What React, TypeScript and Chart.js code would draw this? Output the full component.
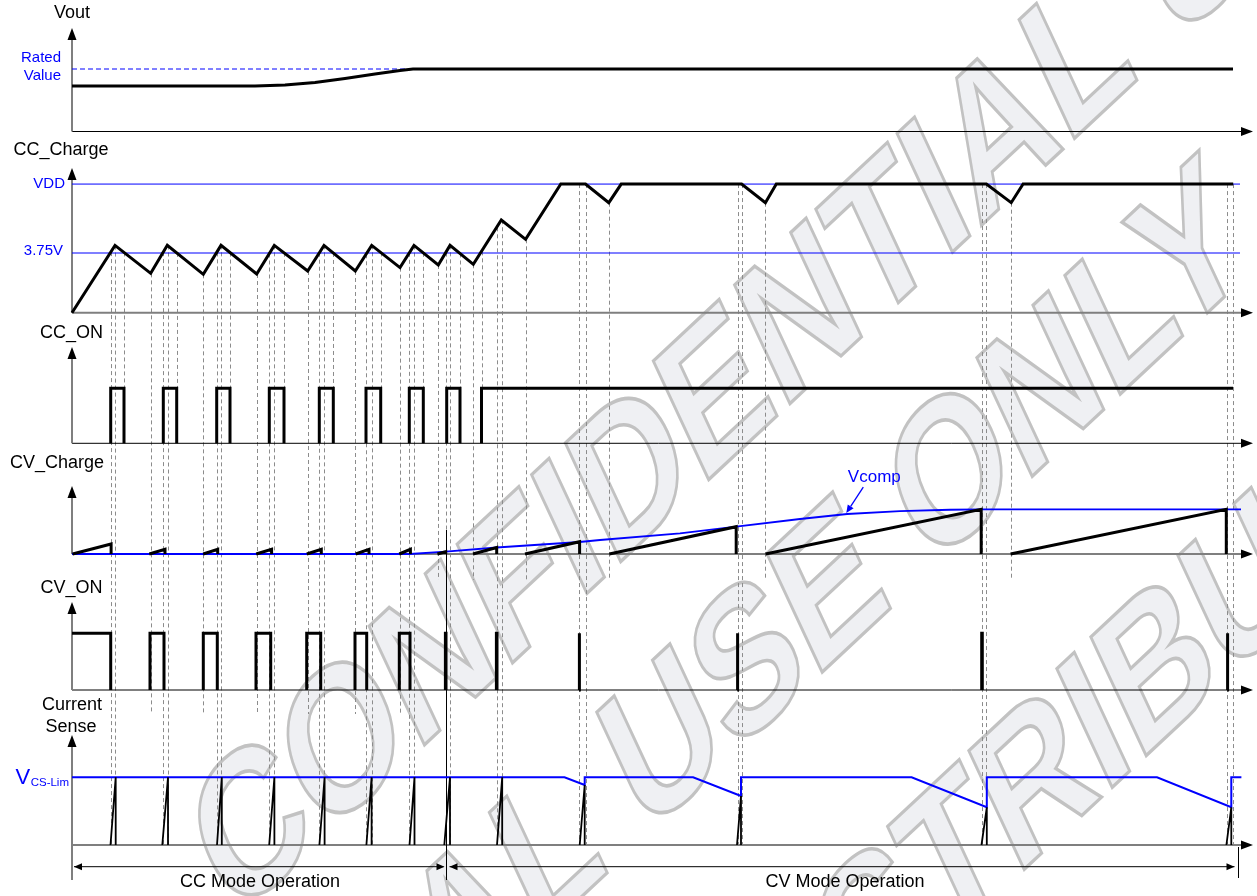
import React, { useEffect, useRef } from 'react';
import { Chart, registerables } from 'chart.js';

Chart.register(...registerables);

// ====================== DATA (time in arbitrary units, 0 = origin) ======================
const T_END = 1161;
const REF_LINE_END = 1168;

// Vout (1 = rated value)
const voutTime = [0, 183, 213, 243, 273, 303, 328, 341, 1161];
const voutLevel = [0.728, 0.728, 0.744, 0.784, 0.848, 0.92, 0.976, 1, 1];
const RATED_VALUE = 1;
const ratedLineEnd = 341;

// CC_Charge (V)
const VDD = 8.08;
const CC_REF = 3.75;
const ccChargeTime = [0, 43, 78.7, 95.3, 131.3, 149, 184.7, 202.3, 235.7, 252, 283.3, 299.7, 328, 342, 366.3, 378, 401.3, 429.3, 453.6, 488.8, 513.5, 536.8, 549.2, 669.6, 693.4, 704.3, 914.4, 939.2, 951.1, 1161.2];
const ccChargeVolt = [0, 4.23, 2.47, 4.23, 2.41, 4.23, 2.43, 4.23, 2.62, 4.23, 2.62, 4.23, 2.83, 4.23, 3.0, 4.23, 3.04, 5.82, 4.61, 8.08, 8.08, 6.91, 8.08, 8.08, 6.91, 8.08, 8.08, 6.91, 8.08, 8.08];

// CC_ON (logic)
const ccOnRise = [38.7, 91.3, 144.7, 197.3, 247.3, 294, 337.3, 374.7];
const ccOnFall = [52, 104.7, 158, 212, 261.3, 308.7, 351.3, 388];
const ccOnFinalRise = 409.5;

// CV_Charge ramps (1 = final Vcomp level)
const cvRampStart = [0.6, 77.3, 131.2, 184.2, 234.8, 283.7, 327.3, 365.4, 401, 453, 537.3, 693.5, 938.6];
const cvRampEnd = [39.1, 93, 145.7, 199.6, 249.3, 297, 338.4, 373.7, 424.7, 507.6, 664.2, 909.2, 1154.3];
const cvRampPeak = [0.224, 0.105, 0.105, 0.105, 0.105, 0.105, 0.105, 0.05, 0.145, 0.275, 0.611, 1, 1];

// Vcomp
const vcompTime = [0, 338, 373.7, 424.7, 507.6, 528, 608, 664.2, 728, 775.2, 828, 878, 909.2, 1169];
const vcompLevel = [0, 0, 0.051, 0.145, 0.268, 0.313, 0.463, 0.611, 0.783, 0.895, 0.957, 0.99, 1, 1];

// CV_ON (logic)
const cvOnInitialEnd = 38.7;
const cvOnStart = [78, 131.3, 184, 234.7, 283, 327.3, 373.4, 424.4, 507, 665.2, 909.7, 1155.2];
const cvOnEnd = [92, 145.3, 198.7, 248.7, 294.7, 338, 374, 425, 507.6, 665.8, 910.3, 1155.8];

// Current Sense (1 = V_CS-Lim)
const csLimTime = [0, 492.5, 512.7, 512.7, 621.1, 669, 669, 839.6, 914.8, 914.8, 1085, 1159.3, 1159.3, 1169.4];
const csLimLevel = [1, 1, 0.886, 1, 1, 0.724, 1, 1, 0.557, 1, 1, 0.557, 1, 1];
const csSpikeStart = [38.5, 90.3, 145, 197.2, 247.4, 294.4, 337.5, 372.3, 425, 507.7, 665, 909.5, 1154.4];
const csSpikePeakTime = [43.7, 96, 149.8, 202.4, 252.6, 299.6, 342.5, 378, 430.2, 512.7, 669, 914.8, 1159.3];
const csSpikePeak = [1, 1, 1, 1, 1, 1, 1, 1, 1, 0.886, 0.724, 0.557, 0.557];

// Event markers (dashed guides)
const markToCS = [38.7, 43.3, 91.3, 95.5, 144.7, 149, 197.3, 202.3, 247.3, 252, 294, 299.7, 337.3, 342.3, 373.7, 378, 424.7, 429.5, 507.3, 513.5, 665.5, 669.6, 910, 914.4, 1155.3, 1161.2];
const markToCCOn = [52, 104.7, 158, 212, 261.3, 308.7, 351.3, 388, 409.5];
const markTroughCC = [78.7, 131.3, 184.7, 235.7, 283.3, 328];
const markTroughCV = [366.3, 401.3, 453.6, 536.8, 693.4, 939.2];
const modeBoundary = 373.7;

// ====================== LAYOUT / STYLE ======================
const W = 1257;
const H = 896;
const X_MIN = -72;
const X_MAX = W - 72;
const FONT = '"Liberation Sans", Arial, Helvetica, sans-serif';
const BLUE = '#0000ff';

type Panel = { id: string; base: number; unit: number; tip: number; baseColor: string; baseWidth: number };
const PANELS: Panel[] = [
  { id: 'yVout', base: 131.5, unit: 62.5, tip: 28, baseColor: '#000000', baseWidth: 1.2 },
  { id: 'yCCc', base: 312.7, unit: 15.92, tip: 168, baseColor: '#7f7f7f', baseWidth: 2 },
  { id: 'yCCon', base: 443.3, unit: 55, tip: 347, baseColor: '#000000', baseWidth: 1 },
  { id: 'yCVc', base: 554, unit: 44.7, tip: 486, baseColor: '#7f7f7f', baseWidth: 2 },
  { id: 'yCVon', base: 690, unit: 56.7, tip: 602, baseColor: '#000000', baseWidth: 1 },
  { id: 'yCS', base: 845, unit: 67.7, tip: 735, baseColor: '#7f7f7f', baseWidth: 2 },
];

const WATERMARK = {
  angleDeg: 33.4,
  yStretch: 1.415,
  size: 146,
  lines: [
    { text: 'CONFIDENTIAL USE ONLY', anchor: 1, x: 340, y: 735 },
    { text: 'CONFIDENTIAL USE ONLY', anchor: 13, x: 660, y: 735 },
    { text: 'NOT FOR DISTRIBUTION', anchor: 11, x: 950, y: 850 },
  ],
};

// ====================== HELPERS ======================
type P = { x: number; y: number | null };
const pts = (ts: number[], vs: number[]): P[] => ts.map((t, i) => ({ x: t, y: vs[i] }));

function interp(ts: number[], vs: number[], t: number) {
  if (t <= ts[0]) return vs[0];
  for (let i = 1; i < ts.length; i++) {
    if (t <= ts[i]) {
      const a = ts[i - 1], b = ts[i];
      if (b === a) return vs[i];
      return vs[i - 1] + ((vs[i] - vs[i - 1]) * (t - a)) / (b - a);
    }
  }
  return vs[vs.length - 1];
}

function buildCcOn(): P[] {
  const d: P[] = [];
  ccOnRise.forEach((r, i) => {
    const f = ccOnFall[i];
    d.push({ x: r, y: 0 }, { x: r, y: 1 }, { x: f, y: 1 }, { x: f, y: 0 }, { x: f, y: null });
  });
  d.push({ x: ccOnFinalRise, y: 0 }, { x: ccOnFinalRise, y: 1 }, { x: T_END, y: 1 });
  return d;
}

function buildCvOn(): P[] {
  const d: P[] = [{ x: 0, y: 1 }, { x: cvOnInitialEnd, y: 1 }, { x: cvOnInitialEnd, y: 0 }, { x: cvOnInitialEnd, y: null }];
  cvOnStart.forEach((s, i) => {
    const e = cvOnEnd[i];
    d.push({ x: s, y: 0 }, { x: s, y: 1 }, { x: e, y: 1 }, { x: e, y: 0 }, { x: e, y: null });
  });
  return d;
}

function buildRamps(): P[] {
  const d: P[] = [];
  cvRampStart.forEach((s, i) => {
    const e = cvRampEnd[i];
    d.push({ x: s, y: 0 }, { x: e, y: cvRampPeak[i] }, { x: e, y: 0 }, { x: e, y: null });
  });
  return d;
}

function buildSpikes(): P[] {
  const d: P[] = [];
  csSpikeStart.forEach((s, i) => {
    const p = csSpikePeakTime[i];
    d.push({ x: s, y: 0 }, { x: p, y: csSpikePeak[i] }, { x: p, y: 0 }, { x: p, y: null });
  });
  return d;
}

function line(ctx: CanvasRenderingContext2D, x1: number, y1: number, x2: number, y2: number) {
  ctx.beginPath();
  ctx.moveTo(x1, y1);
  ctx.lineTo(x2, y2);
  ctx.stroke();
}

function tri(ctx: CanvasRenderingContext2D, x: number, y: number, dir: 'up' | 'right' | 'left', len: number, half: number) {
  ctx.beginPath();
  if (dir === 'up') {
    ctx.moveTo(x, y); ctx.lineTo(x - half, y + len); ctx.lineTo(x + half, y + len);
  } else if (dir === 'right') {
    ctx.moveTo(x, y); ctx.lineTo(x - len, y - half); ctx.lineTo(x - len, y + half);
  } else {
    ctx.moveTo(x, y); ctx.lineTo(x + len, y - half); ctx.lineTo(x + len, y + half);
  }
  ctx.closePath();
  ctx.fill();
}

function txt(ctx: CanvasRenderingContext2D, s: string, x: number, y: number, size = 18, color = '#000', align: CanvasTextAlign = 'center') {
  ctx.font = `${size}px ${FONT}`;
  ctx.fillStyle = color;
  ctx.textAlign = align;
  ctx.textBaseline = 'middle';
  ctx.fillText(s, x, y);
}

function drawWatermark(ctx: CanvasRenderingContext2D) {
  const a = (WATERMARK.angleDeg * Math.PI) / 180;
  ctx.save();
  ctx.font = `bold ${WATERMARK.size}px ${FONT}`;
  ctx.textAlign = 'left';
  ctx.textBaseline = 'alphabetic';
  ctx.lineJoin = 'miter';
  for (const wm of WATERMARK.lines) {
    const pre = ctx.measureText(wm.text.slice(0, wm.anchor)).width;
    const half = ctx.measureText(wm.text[wm.anchor]).width / 2;
    ctx.save();
    ctx.translate(wm.x, wm.y);
    ctx.scale(1, WATERMARK.yStretch);
    ctx.rotate(-a);
    const ox = -(pre + half);
    const oy = (WATERMARK.size * 0.716) / 2;
    ctx.fillStyle = '#eff0f3';
    ctx.fillText(wm.text, ox, oy);
    ctx.lineWidth = 2.6;
    ctx.strokeStyle = '#c2c2c2';
    ctx.strokeText(wm.text, ox, oy);
    ctx.restore();
  }
  ctx.restore();
}

const diagramPlugin = {
  id: 'timingDiagram',
  beforeDraw(chart: any) {
    const ctx: CanvasRenderingContext2D = chart.ctx;
    ctx.save();
    ctx.fillStyle = '#ffffff';
    ctx.fillRect(0, 0, chart.width, chart.height);
    ctx.restore();
    drawWatermark(ctx);
  },
  beforeDatasetsDraw(chart: any) {
    const ctx: CanvasRenderingContext2D = chart.ctx;
    const xs = chart.scales.x;
    const px = (t: number) => xs.getPixelForValue(t);
    const py = (id: string, v: number) => chart.scales[id].getPixelForValue(v);
    const x0 = px(0);
    const xArrow = px(1181);
    ctx.save();

    // dashed event guides
    ctx.setLineDash([4, 3]);
    ctx.strokeStyle = '#8c8c8c';
    ctx.lineWidth = 1;
    const mark = (t: number, yBottom: number) => {
      const x = Math.round(px(t)) + 0.5;
      const yTop = py('yCCc', interp(ccChargeTime, ccChargeVolt, t));
      line(ctx, x, yTop, x, yBottom);
    };
    markToCS.forEach((t) => mark(t, py('yCS', 0)));
    markToCCOn.forEach((t) => mark(t, py('yCCon', 0)));
    markTroughCC.forEach((t) => mark(t, py('yCVon', 0) + 24));
    markTroughCV.forEach((t) => mark(t, py('yCVc', 0) + 26));
    ctx.setLineDash([]);

    // axes with arrows
    for (const p of PANELS) {
      const yb = py(p.id, 0);
      ctx.strokeStyle = p.baseColor;
      ctx.lineWidth = p.baseWidth;
      line(ctx, x0, yb, xArrow - 8, yb);
      ctx.fillStyle = '#000';
      tri(ctx, xArrow, yb, 'right', 12, 4.5);
      ctx.strokeStyle = '#7f7f7f';
      ctx.lineWidth = 2;
      const yEnd = p.id === 'yCS' ? yb + 35 : yb;
      line(ctx, x0, yEnd, x0, p.tip + 8);
      tri(ctx, x0, p.tip, 'up', 12, 4.5);
    }

    // CC / CV mode boundary and span arrows
    const yCSb = py('yCS', 0);
    ctx.strokeStyle = '#000';
    ctx.lineWidth = 1;
    const xb = Math.round(px(modeBoundary)) + 0.5;
    line(ctx, xb, py('yCVc', 0) - 24, xb, yCSb + 35);
    const xe = Math.round(px(1166)) + 0.5;
    line(ctx, xe, yCSb + 2, xe, yCSb + 33);
    const ya = yCSb + 21.7;
    line(ctx, x0 + 2, ya, xb - 3, ya);
    line(ctx, xb + 3, ya, xe - 4, ya);
    ctx.fillStyle = '#000';
    tri(ctx, x0 + 2, ya, 'left', 8, 3.5);
    tri(ctx, xb - 2, ya, 'right', 8, 3.5);
    tri(ctx, xb + 3, ya, 'left', 8, 3.5);
    tri(ctx, xe - 4, ya, 'right', 8, 3.5);
    ctx.restore();
  },
  afterDatasetsDraw(chart: any) {
    const ctx: CanvasRenderingContext2D = chart.ctx;
    const xs = chart.scales.x;
    const px = (t: number) => xs.getPixelForValue(t);
    const py = (id: string, v: number) => chart.scales[id].getPixelForValue(v);
    ctx.save();
    txt(ctx, 'Vout', 72, 13.5);
    txt(ctx, 'Rated', 61, py('yVout', RATED_VALUE) - 11, 15, BLUE, 'right');
    txt(ctx, 'Value', 61, py('yVout', RATED_VALUE) + 7, 15, BLUE, 'right');
    txt(ctx, 'CC_Charge', 61, 150);
    txt(ctx, 'VDD', 65, py('yCCc', VDD), 15, BLUE, 'right');
    txt(ctx, '3.75V', 63, py('yCCc', CC_REF) - 2, 15, BLUE, 'right');
    txt(ctx, 'CC_ON', 71.5, 333);
    txt(ctx, 'CV_Charge', 57, 463);
    txt(ctx, 'CV_ON', 71.5, 588.5);
    txt(ctx, 'Current', 72, 705);
    txt(ctx, 'Sense', 71, 727);

    // V_CS-Lim
    const yLim = py('yCS', 1);
    ctx.fillStyle = BLUE;
    ctx.textBaseline = 'alphabetic';
    ctx.textAlign = 'left';
    ctx.font = `22px ${FONT}`;
    ctx.fillText('V', 15.5, yLim + 6.5);
    const vw = ctx.measureText('V').width;
    ctx.font = `11.5px ${FONT}`;
    ctx.fillText('CS-Lim', 15.5 + vw + 0.5, yLim + 8.5);

    // Vcomp annotation
    const tTip = 774.3;
    const tipX = px(tTip);
    const tipY = py('yCVc', interp(vcompTime, vcompLevel, tTip)) - 1;
    ctx.strokeStyle = BLUE;
    ctx.fillStyle = BLUE;
    ctx.lineWidth = 1.3;
    const tailX = tipX + 17, tailY = tipY - 26;
    const ang = Math.atan2(tipY - tailY, tipX - tailX);
    const hx = tipX - Math.cos(ang) * 8, hy = tipY - Math.sin(ang) * 8;
    line(ctx, tailX, tailY, hx, hy);
    ctx.beginPath();
    ctx.moveTo(tipX, tipY);
    ctx.lineTo(hx + Math.sin(ang) * 3.5, hy - Math.cos(ang) * 3.5);
    ctx.lineTo(hx - Math.sin(ang) * 3.5, hy + Math.cos(ang) * 3.5);
    ctx.closePath();
    ctx.fill();
    txt(ctx, 'Vcomp', tipX + 28, tipY - 36, 17, BLUE);

    // mode captions
    const yCSb = py('yCS', 0);
    txt(ctx, 'CC Mode Operation', 260, yCSb + 37);
    txt(ctx, 'CV Mode Operation', 845, yCSb + 37);
    ctx.restore();
  },
};

function makeConfig(): any {
  const scales: any = {
    x: { type: 'linear', display: false, min: X_MIN, max: X_MAX, bounds: 'data' },
  };
  for (const p of PANELS) {
    scales[p.id] = {
      type: 'linear',
      display: false,
      position: 'left',
      bounds: 'data',
      max: p.base / p.unit,
      min: (p.base - H) / p.unit,
    };
  }
  const black = (data: P[], yAxisID: string, width = 3) => ({
    data, yAxisID, borderColor: '#000', borderWidth: width, pointRadius: 0, fill: false,
    tension: 0, spanGaps: false, borderJoinStyle: 'miter', borderCapStyle: 'butt',
  });
  const blue = (data: P[], yAxisID: string, width = 1, dash: number[] = []) => ({
    data, yAxisID, borderColor: BLUE, borderWidth: width, pointRadius: 0, fill: false,
    tension: 0, spanGaps: false, borderDash: dash, borderJoinStyle: 'miter',
  });
  const datasets = [
    black(pts(voutTime, voutLevel), 'yVout'),
    black(pts(ccChargeTime, ccChargeVolt), 'yCCc'),
    black(buildCcOn(), 'yCCon'),
    black(buildRamps(), 'yCVc'),
    black(buildCvOn(), 'yCVon'),
    black(buildSpikes(), 'yCS', 1.8),
    blue([{ x: 0, y: RATED_VALUE }, { x: ratedLineEnd, y: RATED_VALUE }], 'yVout', 1, [5, 3]),
    blue([{ x: 0, y: VDD }, { x: REF_LINE_END, y: VDD }], 'yCCc', 1),
    blue([{ x: 0, y: CC_REF }, { x: REF_LINE_END, y: CC_REF }], 'yCCc', 1.2),
    blue(pts(vcompTime, vcompLevel), 'yCVc', 1.8),
    blue(pts(csLimTime, csLimLevel), 'yCS', 2),
  ];
  return {
    type: 'line',
    data: { datasets },
    options: {
      animation: false,
      responsive: false,
      maintainAspectRatio: false,
      events: [],
      layout: { padding: 0 },
      parsing: true,
      plugins: { legend: { display: false }, tooltip: { enabled: false }, title: { display: false } },
      scales,
    },
    plugins: [diagramPlugin],
  };
}

export default function App() {
  const ref = useRef<HTMLCanvasElement | null>(null);
  useEffect(() => {
    if (!ref.current) return;
    const chart = new Chart(ref.current, makeConfig());
    return () => chart.destroy();
  }, []);
  return (
    <div style={{ position: 'absolute', left: 0, top: 0, width: W, height: H, background: '#fff' }}>
      <canvas ref={ref} width={W} height={H} style={{ display: 'block', width: W, height: H }} />
    </div>
  );
}
